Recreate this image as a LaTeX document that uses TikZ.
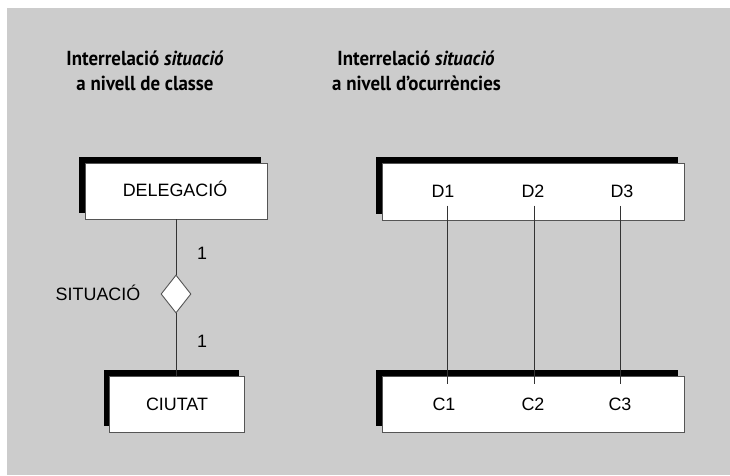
\documentclass[tikz,border=0pt]{standalone}
\usepackage{fontspec}
\setmainfont{Liberation Sans}
\newfontfamily\ttlfont{PT Sans}
\usetikzlibrary{shapes.geometric,shadows}
\definecolor{panel}{HTML}{CCCCCC}
\definecolor{edge}{HTML}{555555}
\definecolor{wire}{HTML}{333333}
\newcommand{\ttlsq}[1]{\scalebox{0.93}[1]{#1}}
\tikzset{
  entbox/.style={draw=edge, fill=white, line width=0.9pt, inner sep=0pt,
    general shadow={fill=black, shadow xshift=-6pt, shadow yshift=6pt}},
  relshape/.style={diamond, draw=edge, fill=white, line width=0.9pt, inner sep=0pt,
    minimum width=30pt, minimum height=38pt},
  lbl/.style={font=\fontsize{17.9}{21}\selectfont, inner sep=0pt, anchor=base},
  occtop/.style={lbl, inner xsep=0pt, inner ysep=8.4pt},
  occbot/.style={lbl, inner xsep=0pt, inner ysep=13pt},
  ttl/.style={font=\ttlfont\bfseries\fontsize{20.3}{25}\selectfont, inner sep=0pt, anchor=base},
  wireline/.style={draw=wire, line width=0.8pt}
}
\begin{document}
\begin{tikzpicture}[x=1pt,y=-1pt]
\useasboundingbox (0,0) rectangle (730,475);
\fill[panel] (7,8) rectangle (730,475);
% titles
\node[ttl] (t1a) at (145,65.7) {\ttlsq{Interrelació \textit{situació}}};
\node[ttl] (t1b) at (145,90.7) {\ttlsq{a nivell de classe}};
\node[ttl] (t2a) at (416,65.7) {\ttlsq{Interrelació \textit{situació}}};
\node[ttl] (t2b) at (416.5,90.7) {\ttlsq{a nivell d’ocurrències}};
% left
\node[entbox, minimum width=182pt, minimum height=56pt] (deleg) at (176,191) {};
\node[lbl] (delegt) at (175,196.5) {DELEGACIÓ};
\node[relshape] (sit) at (176,294) {};
\node[entbox, minimum width=135pt, minimum height=56pt] (ciut) at (177,404) {};
\node[lbl] (ciutt) at (177,410.5) {CIUTAT};
\draw[wireline] (deleg.south) -- (sit.north);
\draw[wireline] (sit.south) -- (sit.south |- ciut.north);
\node[lbl] (sitl) at (98,300.5) {SITUACIÓ};
\node[lbl] (c1) at (202,259.3) {1};
\node[lbl] (c2) at (202,347.3) {1};
% right
\node[entbox, minimum width=302pt, minimum height=57pt] (dbox) at (533,191.5) {};
\node[entbox, minimum width=302pt, minimum height=56pt] (cbox) at (533,404) {};
\node[occtop] (d1) at (443,197) {D1};
\node[occtop] (d2) at (533,197) {D2};
\node[occtop] (d3) at (622,197) {D3};
\node[occbot] (e1) at (444,410) {C1};
\node[occbot] (e2) at (533,410) {C2};
\node[occbot] (e3) at (620,410) {C3};
\draw[wireline] ([xshift=4pt]d1.south) -- ([xshift=3pt]e1.north);
\draw[wireline] ([xshift=1pt]d2.south) -- ([xshift=1pt]e2.north);
\draw[wireline] ([xshift=-2pt]d3.south) -- (e3.north);
\end{tikzpicture}
\end{document}
